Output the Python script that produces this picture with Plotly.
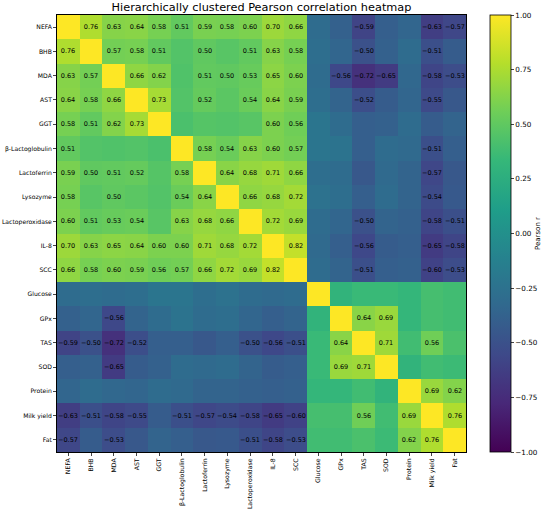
import plotly.graph_objects as go

labels = ["NEFA", "BHB", "MDA", "AST", "GGT", "β-Lactoglobulin", "Lactoferrin",
          "Lysozyme", "Lactoperoxidase", "IL-8", "SCC", "Glucose", "GPx", "TAS",
          "SOD", "Protein", "Milk yield", "Fat"]

corr = [
    [1.00, .76, .63, .64, .58, .51, .59, .58, .60, .70, .66, -.30, -.38, -.59, -.40, -.35, -.63, -.57],
    [.76, 1.00, .57, .58, .51, .45, .50, .47, .51, .63, .58, -.28, -.35, -.50, -.38, -.30, -.51, -.42],
    [.63, .57, 1.00, .66, .62, .44, .51, .50, .53, .65, .60, -.30, -.56, -.72, -.65, -.33, -.58, -.53],
    [.64, .58, .66, 1.00, .73, .45, .52, .48, .54, .64, .59, -.28, -.36, -.52, -.42, -.35, -.55, -.45],
    [.58, .51, .62, .73, 1.00, .42, .46, .45, .47, .60, .56, -.22, -.30, -.40, -.38, -.30, -.42, -.36],
    [.51, .45, .44, .45, .42, 1.00, .58, .54, .63, .60, .57, -.22, -.24, -.40, -.30, -.32, -.51, -.40],
    [.59, .50, .51, .52, .46, .58, 1.00, .64, .68, .71, .66, -.28, -.30, -.45, -.32, -.36, -.57, -.45],
    [.58, .47, .50, .48, .45, .54, .64, 1.00, .66, .68, .72, -.25, -.28, -.40, -.30, -.36, -.54, -.44],
    [.60, .51, .53, .54, .47, .63, .68, .66, 1.00, .72, .69, -.30, -.35, -.50, -.36, -.38, -.58, -.51],
    [.70, .63, .65, .64, .60, .60, .71, .68, .72, 1.00, .82, -.32, -.40, -.56, -.42, -.40, -.65, -.58],
    [.66, .58, .60, .59, .56, .57, .66, .72, .69, .82, 1.00, -.30, -.36, -.51, -.40, -.38, -.60, -.53],
    [-.30, -.28, -.30, -.28, -.22, -.22, -.28, -.25, -.30, -.32, -.30, 1.00, .30, .35, .35, .32, .40, .38],
    [-.38, -.35, -.56, -.36, -.30, -.24, -.30, -.28, -.35, -.40, -.36, .30, 1.00, .64, .69, .32, .40, .38],
    [-.59, -.50, -.72, -.52, -.40, -.40, -.45, -.40, -.50, -.56, -.51, .35, .64, 1.00, .71, .38, .56, .42],
    [-.40, -.38, -.65, -.42, -.38, -.30, -.32, -.30, -.36, -.42, -.40, .35, .69, .71, 1.00, .30, .38, .36],
    [-.35, -.30, -.33, -.35, -.30, -.32, -.36, -.36, -.38, -.40, -.38, .32, .32, .38, .30, 1.00, .69, .62],
    [-.63, -.51, -.58, -.55, -.42, -.51, -.57, -.54, -.58, -.65, -.60, .40, .40, .56, .38, .69, 1.00, .76],
    [-.57, -.42, -.53, -.45, -.36, -.40, -.45, -.44, -.51, -.58, -.53, .38, .38, .42, .36, .62, .76, 1.00],
]

cbar_ticks = [-1.0, -0.75, -0.5, -0.25, 0.0, 0.25, 0.5, 0.75, 1.0]


def fmt(v):
    s = f"{abs(v):.2f}"
    return ("\u2212" + s) if v < 0 else s


text = []
for i, row in enumerate(corr):
    text.append([fmt(v) if (i != j and abs(v) >= 0.5) else "" for j, v in enumerate(row)])

font_family = "DejaVu Sans"

W, H = 550, 517
L, R, T, B = 57, 466, 15, 452

fig = go.Figure(go.Heatmap(
    z=corr, x=labels, y=labels, text=text, texttemplate="%{text}",
    textfont=dict(size=6.5, color="black", family=font_family),
    colorscale="Viridis", zmin=-1, zmax=1,
    colorbar=dict(
        x=(490 - L) / (R - L), xanchor="left", xpad=0,
        y=0.5, yanchor="middle", len=1.0, lenmode="fraction", ypad=0,
        thickness=21, outlinewidth=0.8, outlinecolor="black",
        tickvals=cbar_ticks, ticktext=[fmt(t) for t in cbar_ticks],
        ticks="outside", ticklen=3, tickfont=dict(size=7.2, color="black", family=font_family),
        title=dict(text="Pearson r", side="right", font=dict(size=7, color="black", family=font_family)),
    ),
    hoverongaps=False,
))

fig.update_layout(
    width=W, height=H,
    margin=dict(l=L, r=W - R, t=T, b=H - B, autoexpand=False),
    paper_bgcolor="white", plot_bgcolor="white",
    font=dict(family=font_family, color="black"),
    title=dict(text="Hierarchically clustered Pearson correlation heatmap",
               x=(L + R) / 2 / W, xanchor="center", y=1 - 7.5 / H, yanchor="middle",
               font=dict(size=11.3, color="black", family=font_family)),
)
fig.update_xaxes(tickangle=-90, ticks="outside", ticklen=3, tickfont=dict(size=6.2),
                 automargin=False,
                 showline=True, linecolor="black", linewidth=0.8, mirror=True, showgrid=False)
fig.update_yaxes(autorange="reversed", ticks="outside", ticklen=3, tickfont=dict(size=6.1),
                 automargin=False,
                 showline=True, linecolor="black", linewidth=0.8, mirror=True, showgrid=False)

fig.write_html("out.html", config={"displayModeBar": False},
               post_script="document.body.style.margin='0';")
